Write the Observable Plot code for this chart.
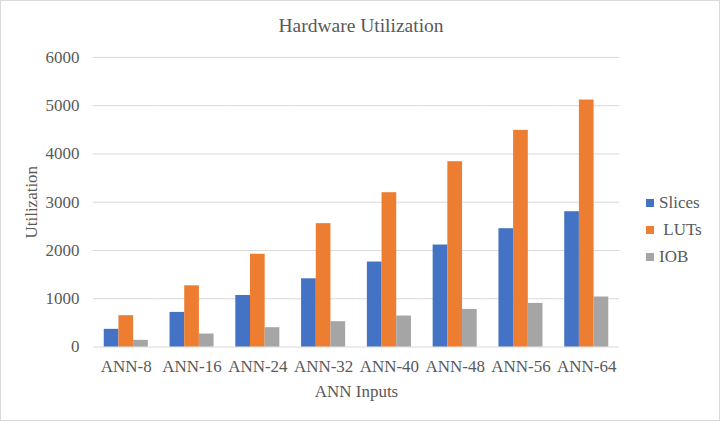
<!DOCTYPE html>
<html>
<head>
<meta charset="utf-8">
<script src="https://cdn.jsdelivr.net/npm/d3@7"></script>
<script src="https://cdn.jsdelivr.net/npm/@observablehq/plot@0.6"></script>
<style>
  html, body { margin: 0; padding: 0; background: #fff; }
  #wrap { position: relative; width: 720px; height: 421px; box-sizing: border-box; border: 1px solid #d9d9d9; overflow: hidden; font-family: "Liberation Serif", "Times New Roman", serif; }
  #chart { position: absolute; left: -1px; top: -1px; }
  #title { position: absolute; left: 0; width: 720px; top: 14px; text-align: center; font-size: 19.5px; color: #595959; }
  #legend { position: absolute; left: 645px; top: 188px; font-size: 17px; color: #595959; white-space: pre; }
  .item { display: flex; align-items: center; height: 27px; }
  .sw { width: 8px; height: 8px; margin-right: 5px; }
</style>
</head>
<body>
<div id="wrap">
  <div id="chart"></div>
  <div id="title">Hardware Utilization</div>
  <div id="legend"></div>
</div>
<script>
const categories = ["ANN-8", "ANN-16", "ANN-24", "ANN-32", "ANN-40", "ANN-48", "ANN-56", "ANN-64"];
const seriesNames = ["Slices", "LUTs", "IOB"];
const legendLabels = ["Slices", " LUTs", "IOB"];
const slices = [366, 717, 1068, 1413, 1761, 2113, 2451, 2803];
const luts = [649, 1268, 1922, 2556, 3197, 3839, 4488, 5117];
const iob = [138, 269, 400, 524, 642, 779, 903, 1036];
const yTicks = [0, 1000, 2000, 3000, 4000, 5000, 6000];
const colors = ["#4472C4", "#ED7D31", "#A5A5A5"];

const seriesValues = [slices, luts, iob];
const data = [];
categories.forEach((c, i) => {
  seriesNames.forEach((s, j) => data.push({cat: c, series: s, value: seriesValues[j][i]}));
});

const chart = Plot.plot({
  width: 720,
  height: 421,
  marginLeft: 93,
  marginRight: 100,
  marginTop: 57,
  marginBottom: 74,
  style: {fontFamily: "'Liberation Serif', 'Times New Roman', serif", fontSize: "17px", color: "#595959", background: "transparent"},
  fx: {domain: categories, padding: 0, round: false, axis: null},
  x: {domain: seriesNames, paddingInner: 0, paddingOuter: 0.74, round: false, axis: null},
  y: {domain: [0, 6000]},
  color: {domain: seriesNames, range: colors},
  marks: [
    Plot.ruleY(yTicks, {stroke: "#d9d9d9", strokeWidth: 1}),
    Plot.barY(data, {fx: "cat", x: "series", y: "value", fill: "series"}),
    Plot.axisFx({anchor: "bottom", tickSize: 0, tickPadding: 13, label: "ANN Inputs", labelAnchor: "center", labelOffset: 50, fontSize: 17}),
    Plot.axisY(yTicks, {tickSize: 0, tickPadding: 14, label: "Utilization", labelAnchor: "center", labelArrow: "none", labelOffset: 69, fontSize: 17, tickFormat: d => String(d)})
  ]
});
document.getElementById("chart").appendChild(chart);

const legend = document.getElementById("legend");
seriesNames.forEach((s, j) => {
  const it = document.createElement("div");
  it.className = "item";
  const sw = document.createElement("div");
  sw.className = "sw";
  sw.style.background = colors[j];
  const t = document.createElement("span");
  t.textContent = legendLabels[j];
  it.appendChild(sw);
  it.appendChild(t);
  legend.appendChild(it);
});
</script>
</body>
</html>
